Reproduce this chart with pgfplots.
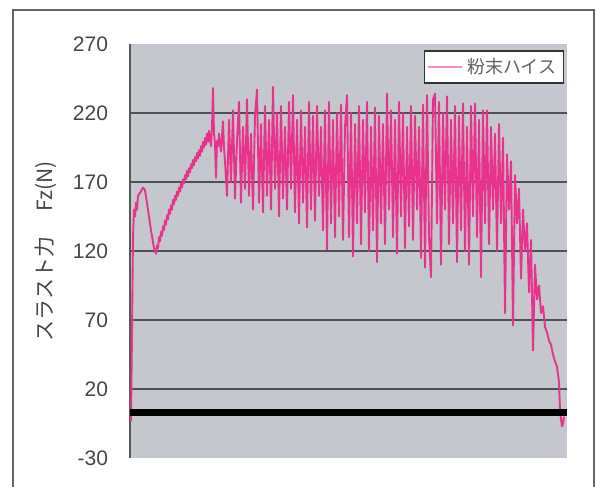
\documentclass[border=0pt]{standalone}
\usepackage{fontspec}
\setmainfont{Liberation Sans}
\newfontfamily\jp{Noto Sans CJK JP}
\usepackage{pgfplots}
\pgfplotsset{compat=1.18}
\definecolor{bgcol}{RGB}{196,199,204}
\definecolor{pinkline}{RGB}{232,50,140}
\definecolor{gridc}{RGB}{80,80,84}
\definecolor{tickc}{RGB}{70,70,70}
\begin{document}
\begin{tikzpicture}
\path[use as bounding box] (0,0) rectangle (298.5pt,243pt);
\draw[line width=0.8pt, color=gray!80!black] (6.5pt,-2pt) -- (6.5pt,238pt) -- (297pt,238pt) -- (297pt,-2pt);
\begin{axis}[
  at={(65pt,14pt)}, anchor=south west,
  width=218.5pt, height=207pt, scale only axis,
  xmin=130, xmax=567, ymin=-30, ymax=270,
  axis x line=none,
  axis y line*=left,
  y axis line style={draw=gray!70!black, line width=0.6pt, -},
  ytick={-30,20,70,120,170,220,270},
  extra y ticks={20,70,120,170,220},
  extra y tick labels={},
  extra y tick style={grid=major, major grid style={gridc, line width=0.9pt}},
  major tick length=0pt,
  tick style={draw=none},
  /pgf/number format/assume math mode=true,
  yticklabel style={font=\fontsize{10.5}{12}\selectfont, text=tickc, xshift=-7.5pt},
  axis background/.style={fill=bgcol},
  legend style={at={(0.993,0.985)}, anchor=north east, draw=gray!40!black, fill=white, line width=0.7pt,
    font=\jp\fontsize{9}{10}\selectfont, text=tickc!85!white, inner sep=1.5pt, row sep=0pt},
  legend cell align=left,
  clip=true,
]
\addlegendimage{pinkline!55!white, line width=0.8pt}
\addlegendentry{粉末ハイス}
\addplot[pinkline, line width=0.95pt, line join=round, forget plot] coordinates {
(130,0) (131,-3) (132,60) (133,130) (134,150) (135,145) (136,155) (137,150) (138,160) (140,162) (143,166) (145,164) (148,150) (151,135) (154,122) (156,118) (157,124) (158,122) (159,130) (160,127) (161,134) (162,131) (163,138) (164,135) (165,142) (166,139) (167,146) (168,143) (169,150) (170,147) (171,153) (172,150) (173,157) (174,154) (175,160) (176,157) (177,163) (178,160) (179,166) (180,163) (181,169) (182,166) (183,172) (184,169) (185,175) (186,172) (187,178) (188,174) (189,180) (190,177) (191,183) (192,180) (193,186) (194,182) (195,188) (196,185) (197,191) (198,187) (199,193) (200,189) (201,196) (202,192) (203,199) (204,195) (205,202) (206,197) (207,205) (208,199) (209,207) (210,202) (211,196) (212,210) (213,238) (214,205) (215,198) (216,173) (217,200) (218,196) (219,205) (220,198) (221,192) (222,203) (223,214) (224,195) (225,185)
(227,160) (229,215) (231,170) (233,222) (235,158) (237,200) (239,228) (241,155) (243,210) (245,165) (247,230) (249,160) (251,205) (253,150) (255,218) (257,237) (259,155) (261,212) (263,148) (265,225) (267,160) (269,215) (271,150) (273,239) (275,165) (277,220) (279,145) (281,225) (283,158) (285,210) (287,150) (289,228) (291,165) (293,233) (295,148) (297,215) (299,140) (301,222) (303,155) (305,210) (307,137) (309,228) (311,150) (313,218) (315,142) (317,225) (319,160) (321,210) (323,135) (325,222) (327,121) (329,228) (331,140) (333,215) (335,130) (337,220) (339,145) (341,226) (343,128) (345,210) (347,233) (349,130) (351,220) (353,116) (355,212) (357,140) (359,225) (361,125) (363,215) (365,148) (367,228) (369,120) (371,210) (373,135) (375,224) (377,112) (379,218) (381,140) (383,212) (385,125) (387,234) (389,150) (391,222) (393,130) (395,215) (397,118) (399,228) (401,145) (403,220) (405,122) (407,210) (409,138) (411,225) (413,128) (415,218) (417,150) (419,210) (421,115) (423,226) (425,108) (427,233) (429,130) (431,101) (433,230) (435,234) (437,140) (439,228) (441,110) (443,220) (445,150) (447,232) (449,125) (451,215) (453,140) (455,225) (457,112) (459,218) (461,135) (463,227) (465,120) (467,210) (469,110) (471,225) (473,145) (475,227) (477,130) (479,215) (481,101) (483,222) (485,140) (487,222) (489,125) (491,210) (493,150) (495,205) (497,120) (499,212) (501,140) (503,202) (505,75) (507,190) (509,150) (511,185) (513,66) (515,175) (517,140) (519,165) (521,100) (523,150) (525,120) (527,140) (529,90) (531,128) (533,48) (535,110) (537,85) (539,95) (541,75) (543,80) (545,65) (547,61) (549,55) (551,52) (553,45) (555,40) (557,36) (559,25) (560,5) (561,-2) (562,-7) (563,-5) (564,0)
};
\addplot[black, line width=3.5pt, forget plot] coordinates {(130,3) (567,3)};
\end{axis}
\node[rotate=90, font=\jp\fontsize{10.5}{12}\selectfont, text=tickc] at (23pt,117.5pt) {スラスト力\hspace{1.2em}Fz(N)};
\end{tikzpicture}
\end{document}
